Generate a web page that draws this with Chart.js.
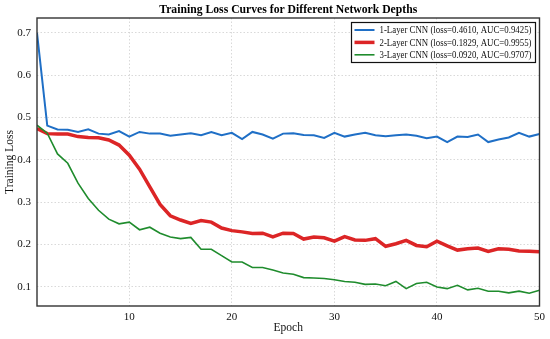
<!DOCTYPE html>
<html>
<head>
<meta charset="utf-8">
<script src="https://cdn.jsdelivr.net/npm/chart.js@4/dist/chart.umd.min.js"></script>
<style>
  html, body { margin: 0; padding: 0; background: #fff; }
  #wrap { width: 550px; height: 339px; }
</style>
</head>
<body>
<div id="wrap"><canvas id="lossChart"></canvas></div>
<script>
// --- Data ---
const epochs = [1, 2, 3, 4, 5, 6, 7, 8, 9, 10, 11, 12, 13, 14, 15, 16, 17, 18, 19, 20,
    21, 22, 23, 24, 25, 26, 27, 28, 29, 30, 31, 32, 33, 34, 35, 36, 37, 38, 39, 40,
    41, 42, 43, 44, 45, 46, 47, 48, 49, 50];

const loss1Layer = [0.700, 0.481, 0.472, 0.471, 0.466, 0.472, 0.462, 0.460, 0.468, 0.455,
    0.466, 0.462, 0.462, 0.457, 0.460, 0.463, 0.458, 0.466, 0.458, 0.464,
    0.449, 0.466, 0.460, 0.450, 0.462, 0.463, 0.459, 0.458, 0.452, 0.464,
    0.455, 0.460, 0.464, 0.458, 0.456, 0.458, 0.460, 0.457, 0.451, 0.455,
    0.442, 0.455, 0.454, 0.460, 0.442, 0.448, 0.453, 0.464, 0.455, 0.461];

const loss2Layer = [0.474, 0.462, 0.461, 0.461, 0.455, 0.453, 0.452, 0.447, 0.435, 0.411,
    0.378, 0.336, 0.295, 0.268, 0.258, 0.250, 0.257, 0.253, 0.239, 0.233,
    0.230, 0.226, 0.227, 0.218, 0.227, 0.226, 0.213, 0.218, 0.216, 0.208,
    0.219, 0.211, 0.210, 0.214, 0.196, 0.202, 0.210, 0.198, 0.195, 0.208,
    0.197, 0.187, 0.190, 0.192, 0.184, 0.190, 0.189, 0.185, 0.184, 0.183];

const loss3Layer = [0.482, 0.463, 0.414, 0.392, 0.345, 0.309, 0.281, 0.260, 0.249, 0.253,
    0.235, 0.241, 0.227, 0.218, 0.214, 0.217, 0.189, 0.189, 0.174, 0.159,
    0.159, 0.146, 0.146, 0.140, 0.133, 0.130, 0.122, 0.121, 0.120, 0.117,
    0.113, 0.111, 0.106, 0.107, 0.103, 0.113, 0.096, 0.108, 0.111, 0.100,
    0.096, 0.104, 0.093, 0.097, 0.090, 0.090, 0.086, 0.090, 0.085, 0.092];

const seriesLabels = [
    "1-Layer CNN (loss=0.4610, AUC=0.9425)",
    "2-Layer CNN (loss=0.1829, AUC=0.9955)",
    "3-Layer CNN (loss=0.0920, AUC=0.9707)"
];
const xTicks = [10, 20, 30, 40, 50];
const yTicks = [0.1, 0.2, 0.3, 0.4, 0.5, 0.6, 0.7];

const titleText = "Training Loss Curves for Different Network Depths";
const serif = "'Liberation Serif', 'DejaVu Serif', serif";

// --- Styles ---
const colors = ["#1f6fc6", "#dc2526", "#1f8c2d"];
const widths = [2, 3.5, 1.6];

const toPoints = vals => epochs.map((e, i) => ({ x: e, y: vals[i] }));

const datasets = [loss1Layer, loss2Layer, loss3Layer].map((vals, i) => ({
    label: seriesLabels[i],
    data: toPoints(vals),
    borderColor: colors[i],
    backgroundColor: colors[i],
    borderWidth: widths[i],
    pointRadius: 0,
    tension: 0,
    fill: false,
    order: 3 - i // later series drawn on top, like matplotlib
}));

// draw text squeezed horizontally so it spans targetW pixels (reference font is narrow)
function drawSqueezed(ctx, text, x, y, targetW, align) {
    const w = ctx.measureText(text).width;
    const k = Math.min(1, targetW / w);
    ctx.save();
    ctx.translate(x, y);
    ctx.scale(k, 1);
    ctx.textAlign = align;
    ctx.fillText(text, 0, 0);
    ctx.restore();
}

// --- Frame, title and boxed legend ---
const framePlugin = {
    id: "frameAndLegend",
    afterDraw(chart) {
        const { ctx, chartArea: a } = chart;
        ctx.save();

        // axes box
        ctx.strokeStyle = "#333";
        ctx.lineWidth = 1.4;
        ctx.strokeRect(a.left, a.top, a.right - a.left, a.bottom - a.top);

        // title
        ctx.fillStyle = "#000";
        ctx.font = `bold 12.5px ${serif}`;
        ctx.textBaseline = "middle";
        drawSqueezed(ctx, titleText, (a.left + a.right) / 2, 9.5, 258, "center");

        // legend box (upper right)
        const boxRight = a.right - 4;
        const boxTop = a.top + 4.5;
        const boxW = 184;
        const boxH = 40;
        const boxLeft = boxRight - boxW;
        ctx.fillStyle = "rgba(255,255,255,0.9)";
        ctx.fillRect(boxLeft, boxTop, boxW, boxH);
        ctx.strokeStyle = "#111";
        ctx.lineWidth = 1.2;
        ctx.strokeRect(boxLeft, boxTop, boxW, boxH);

        ctx.font = `10.5px ${serif}`;
        chart.data.datasets.forEach((ds, i) => {
            const yRow = boxTop + 7.5 + i * 12.4;
            ctx.strokeStyle = ds.borderColor;
            ctx.lineWidth = ds.borderWidth;
            ctx.beginPath();
            ctx.moveTo(boxLeft + 3, yRow);
            ctx.lineTo(boxLeft + 23, yRow);
            ctx.stroke();
            ctx.fillStyle = "#111";
            drawSqueezed(ctx, ds.label, boxLeft + 28, yRow + 0.5, 152, "left");
        });
        ctx.restore();
    }
};

const ctx = document.getElementById("lossChart").getContext("2d");

new Chart(ctx, {
    type: "line",
    data: { datasets },
    options: {
        responsive: true,
        maintainAspectRatio: false,
        animation: false,
        layout: { padding: { top: 18, right: 7, left: 0, bottom: 0 } },
        plugins: {
            legend: { display: false },
            title: { display: false },
            tooltip: { enabled: false }
        },
        scales: {
            x: {
                type: "linear",
                min: 1,
                max: 50,
                afterBuildTicks: s => { s.ticks = xTicks.map(v => ({ value: v })); },
                afterFit: s => { s.height = 33; },
                border: { display: false, dash: [1.5, 2] },
                grid: { color: "#cfcfcf", lineWidth: 0.8, drawTicks: false },
                ticks: { color: "#111", padding: 5, maxRotation: 0, font: { family: serif, size: 11 } },
                title: { display: true, text: "Epoch", color: "#111", padding: { top: 3 }, font: { family: serif, size: 11.5 } }
            },
            y: {
                min: 0.055,
                max: 0.735,
                afterBuildTicks: s => { s.ticks = yTicks.map(v => ({ value: v })); },
                afterFit: s => { s.width = 37; },
                border: { display: false, dash: [1.5, 2] },
                grid: { color: "#cfcfcf", lineWidth: 0.8, drawTicks: false },
                ticks: { color: "#111", padding: 6, callback: v => v.toFixed(1), font: { family: serif, size: 11 } },
                title: { display: true, text: "Training Loss", color: "#111", padding: { bottom: 0, top: 3 }, font: { family: serif, size: 11.5 } }
            }
        }
    },
    plugins: [framePlugin]
});
</script>
</body>
</html>
